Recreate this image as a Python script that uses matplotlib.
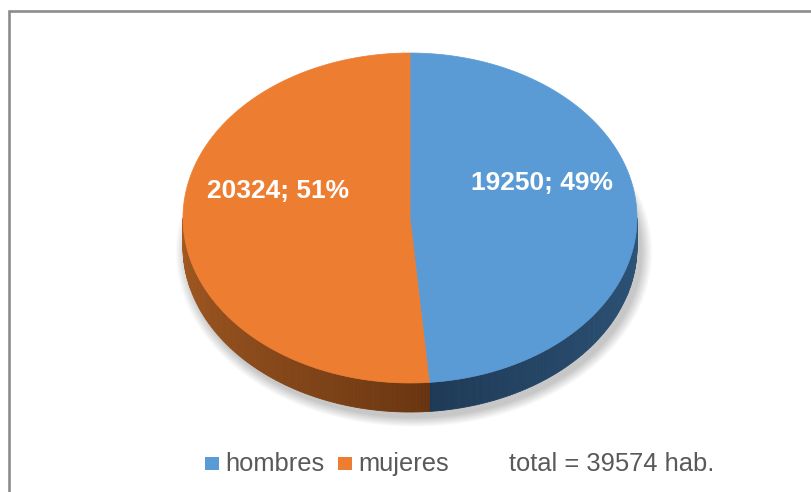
import numpy as np
import matplotlib
matplotlib.use("Agg")
import matplotlib.pyplot as plt
from matplotlib.patches import Polygon, Rectangle, Ellipse
import matplotlib.colors as mcolors

# ---- data ----
categories = ["hombres", "mujeres"]
values = [19250, 20324]
percent_labels = ["49%", "51%"]
total_label = "total = 39574 hab."
colors = ["#5B9BD5", "#ED7D31"]
side_dark = ["#1E3955", "#673410"]
side_light = ["#2F577D", "#A35A22"]

W, H = 811, 492
fig = plt.figure(figsize=(W / 100, H / 100), dpi=100)
fig.patch.set_facecolor("white")
ax = fig.add_axes([0, 0, 1, 1])
ax.set_xlim(0, W)
ax.set_ylim(H, 0)
ax.axis("off")

FONT = "Liberation Sans"

# frame (left & top visible)
ax.plot([9.3, 9.3, W + 5], [H + 5, 11.3, 11.3], color="#8C8C8C", lw=1.9,
        solid_capstyle="projecting", solid_joinstyle="miter", zorder=1)

cx, cy, rx, ry, depth = 410, 218, 227, 165, 29


def pt(theta):
    t = np.radians(theta)
    return cx + rx * np.sin(t), cy - ry * np.cos(t)


# shadow
for i in range(14):
    grow = 14 - i
    ax.add_patch(Ellipse((cx + 4, cy + depth + 5), 2 * rx + grow * 1.6, 2 * ry + grow * 1.4,
                         facecolor="#000000", alpha=0.014, edgecolor="none", zorder=2))

total = float(sum(values))
angles = np.cumsum([0] + [v / total * 360 for v in values])

# sides
for i in range(len(values)):
    a0, a1 = angles[i], angles[i + 1]
    lo, hi = max(a0, 90), min(a1, 270)
    if hi <= lo:
        continue
    n = 120
    ths = np.linspace(lo, hi, n + 1)
    boundary = angles[1]
    cd = np.array(mcolors.to_rgb(side_dark[i]))
    cl = np.array(mcolors.to_rgb(side_light[i]))
    for k in range(n):
        t0, t1 = ths[k], ths[k + 1]
        tm = 0.5 * (t0 + t1)
        f = min(abs(tm - boundary) / 95.0, 1.0) ** 0.8
        c = cd + (cl - cd) * f
        x0, y0 = pt(t0)
        x1, y1 = pt(t1)
        ax.add_patch(Polygon([(x0, y0), (x1, y1), (x1, y1 + depth), (x0, y0 + depth)],
                             closed=True, facecolor=c, edgecolor=c, lw=0.6, zorder=3))

# top faces
for i in range(len(values)):
    ths = np.linspace(angles[i], angles[i + 1], 200)
    xs, ys = pt(ths)
    verts = [(cx, cy)] + list(zip(xs, ys))
    ax.add_patch(Polygon(verts, closed=True, facecolor=colors[i], edgecolor=colors[i],
                         lw=0.5, zorder=4))

# labels
for i in range(len(values)):
    mid = 0.5 * (angles[i] + angles[i + 1])
    t = np.radians(mid)
    lx = cx + 0.582 * rx * np.sin(t)
    ly = cy - 0.582 * ry * np.cos(t) - 31
    ax.text(lx, ly, f"{values[i]}; {percent_labels[i]}", color="white", fontsize=19,
            fontweight="bold", family=FONT, ha="center", va="center", zorder=5)

# legend
legend_x = [205, 338]
for i, cat in enumerate(categories):
    ax.add_patch(Rectangle((legend_x[i], 456.5), 13.5, 13.5, facecolor=colors[i],
                           edgecolor="none", zorder=5))
    ax.text(legend_x[i] + 20, 471, cat, color="#595959", fontsize=18.4, family=FONT,
            ha="left", va="baseline", zorder=5)
ax.text(509, 471, total_label, color="#595959", fontsize=18.4, family=FONT,
        ha="left", va="baseline", zorder=5)

fig.savefig("out.png", dpi=100, facecolor="white")
